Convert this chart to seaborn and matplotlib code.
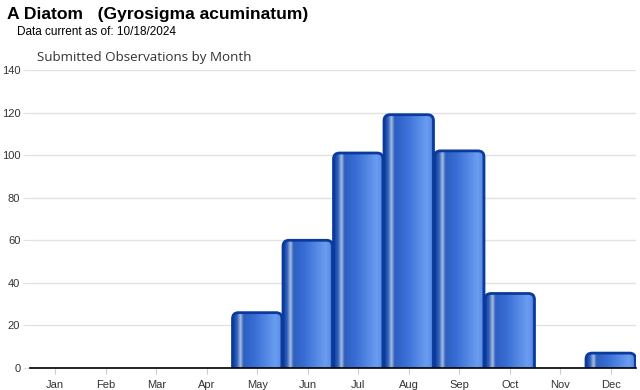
import numpy as np
import pandas as pd
import matplotlib
matplotlib.use('Agg')
import matplotlib.pyplot as plt
from matplotlib.patches import FancyBboxPatch
from matplotlib.colors import LinearSegmentedColormap
import seaborn as sns

months = ["Jan", "Feb", "Mar", "Apr", "May", "Jun", "Jul", "Aug", "Sep", "Oct", "Nov", "Dec"]
counts = [0, 0, 0, 0, 26, 60, 101, 119, 102, 35, 0, 7]
yticks = [0, 20, 40, 60, 80, 100, 120, 140]

df = pd.DataFrame({"month": months, "count": counts})

sns.set_style("white")
plt.rcParams['font.family'] = ['Liberation Sans', 'DejaVu Sans']

fig = plt.figure(figsize=(6.4, 3.9), dpi=100)
ax = fig.add_axes([30 / 640, 1 - 368 / 390, 606 / 640, 298 / 390])

sns.barplot(data=df, x="month", y="count", color="#2f62c8", width=0.98, ax=ax, zorder=3)

# horizontal gradient used on every bar (dark edge, light streak, then lighter to the right)
grad = LinearSegmentedColormap.from_list("bar", [
    (0.00, "#123f9c"), (0.08, "#2f5fbc"), (0.15, "#a9bde0"), (0.21, "#2e5fc2"),
    (0.45, "#3a6fd6"), (0.85, "#6a9cf0"), (0.94, "#5f90e8"), (1.00, "#1a4cae")])
gimg = np.linspace(0, 1, 256).reshape(1, -1)

px_per_unit_x = 606 / 12
px_per_unit_y = 298 / 140
for p in ax.patches:
    h = p.get_height()
    if h <= 0:
        p.set_visible(False)
        continue
    x0, w = p.get_x(), p.get_width()
    p.set_visible(False)
    rad = 6 / px_per_unit_x
    box = FancyBboxPatch((x0 + rad, 0 - 10), w - 2 * rad, h + 10 - rad * px_per_unit_x / px_per_unit_y,
                         boxstyle=f"round,pad={rad}",
                         mutation_aspect=px_per_unit_x / px_per_unit_y,
                         facecolor="none", edgecolor="#0a3a9c", linewidth=2.0, zorder=4)
    ax.add_patch(box)
    im = ax.imshow(gimg, cmap=grad, aspect="auto", extent=(x0, x0 + w, 0, h), zorder=3)
    im.set_clip_path(box)

ax.set_xlim(-0.5, 11.5)
ax.set_ylim(0, 140)
ax.set_yticks(yticks)
ax.set_xlabel("")
ax.set_ylabel("")
ax.grid(axis="y", color="#e2e2e2", linewidth=1, zorder=0)
for s in ["top", "right", "left"]:
    ax.spines[s].set_visible(False)
ax.spines["bottom"].set_color("black")
ax.spines["bottom"].set_linewidth(1.2)
ax.spines["bottom"].set_zorder(5)
ax.tick_params(axis="y", length=5, color="#e2e2e2", labelsize=8, labelcolor="#333333", pad=2, left=True)
ax.tick_params(axis="x", length=4, color="#cccccc", labelsize=8, labelcolor="#333333", pad=5, bottom=True)

fig.text(7 / 640, 1 - 14 / 390, "A Diatom   (Gyrosigma acuminatum)", fontsize=12.6, fontweight="bold",
         va="center", ha="left", color="black")
fig.text(17 / 640, 1 - 32 / 390, "Data current as of: 10/18/2024", fontsize=8.5,
         va="center", ha="left", color="black")
fig.text(37 / 640, 1 - 57 / 390, "Submitted Observations by Month", fontsize=9.6,
         va="center", ha="left", color="#333333", family=["Open Sans", "DejaVu Sans"])

fig.savefig("out.png", dpi=100)
